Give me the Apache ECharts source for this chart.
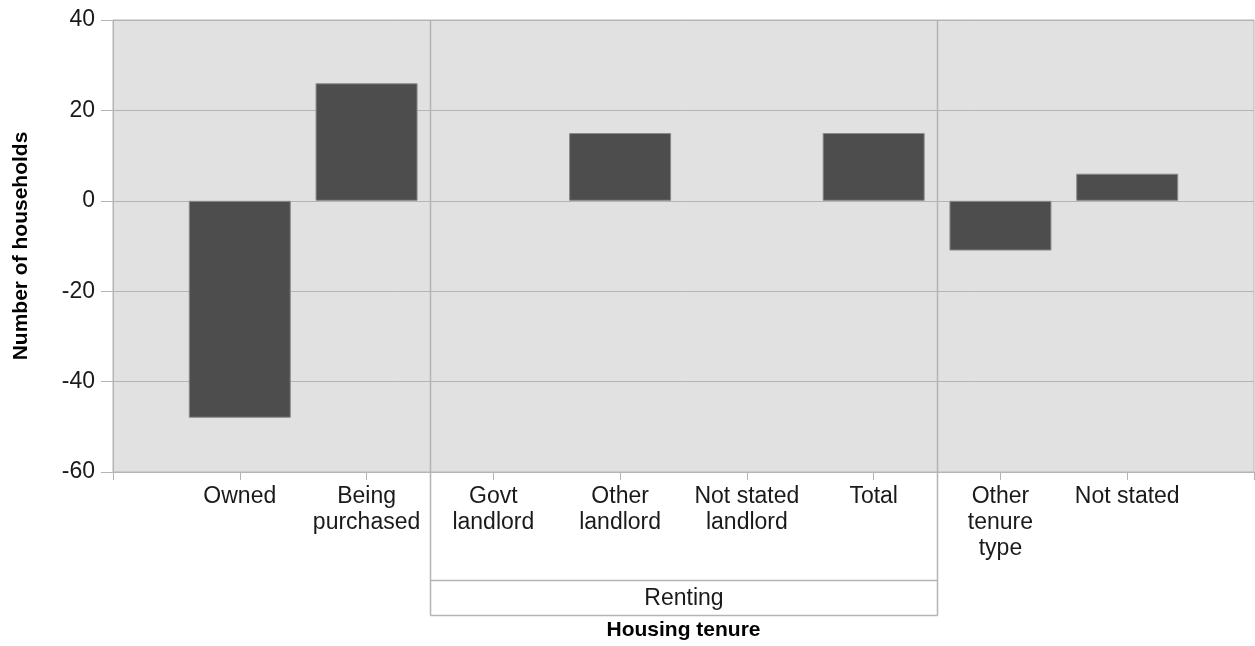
<!DOCTYPE html>
<html>
<head>
<meta charset="utf-8">
<script src="https://cdn.jsdelivr.net/npm/echarts@6/dist/echarts.min.js"></script>
<style>html,body{margin:0;padding:0;background:#fff}#c{width:1255px;height:646px}</style>
</head>
<body>
<div id="c"></div>
<script>
var categories = ['', 'Owned', 'Being\npurchased', 'Govt\nlandlord', 'Other\nlandlord', 'Not stated\nlandlord', 'Total', 'Other\ntenure\ntype', 'Not stated', ''];
var values = [null, -48, 26, 0, 15, 0, 15, -11, 6, null];
var yTicks = { min: -60, max: 40, interval: 20 };
var groupLabel = 'Renting';
var groupStart = 3; // first category index in group
var groupEnd = 6;   // last category index in group

var chart = echarts.init(document.getElementById('c'), null, { renderer: 'canvas' });
var font = 'Arial, "Liberation Sans", sans-serif';
var barData = values.map(function (v) {
  return v === 0 ? { value: 0, itemStyle: { borderWidth: 0 } } : v;
});
var option = {
  animation: false,
  grid: { left: 113, right: 1, top: 20, bottom: 174, outerBoundsMode: 'none', containLabel: false, show: true, backgroundColor: '#e1e1e1', borderColor: '#b4b4b4', borderWidth: 1 },
  xAxis: {
    type: 'category', data: categories, boundaryGap: false,
    axisLine: { show: true, onZero: false, lineStyle: { color: '#b4b4b4', width: 1 } },
    axisTick: { show: true, length: 8, lineStyle: { color: '#b4b4b4' } },
    axisLabel: { color: '#1a1a1a', fontSize: 23, fontFamily: font, lineHeight: 26, margin: 12, interval: 0 },
    splitLine: { show: false },
    name: 'Housing tenure', nameLocation: 'middle', nameGap: 148,
    nameTextStyle: { fontSize: 21, fontWeight: 'bold', color: '#000', fontFamily: font }
  },
  yAxis: {
    type: 'value', min: yTicks.min, max: yTicks.max, interval: yTicks.interval,
    axisLine: { show: true, lineStyle: { color: '#b4b4b4' } },
    axisTick: { show: true, length: 12, lineStyle: { color: '#b4b4b4' } },
    axisLabel: { color: '#1a1a1a', fontSize: 23, fontFamily: font, margin: 18 },
    splitLine: { show: true, lineStyle: { color: '#b4b4b4', width: 1 } },
    name: 'Number of households', nameLocation: 'middle', nameGap: 81, nameRotate: 90,
    nameTextStyle: { fontSize: 21, fontWeight: 'bold', color: '#000', fontFamily: font }
  },
  series: [{
    type: 'bar', data: barData, barWidth: 102,
    itemStyle: { color: '#4d4d4d', borderColor: '#8a8a8a', borderWidth: 1 }
  }]
};
chart.setOption(option);

function drawGroup() {
  var p0 = chart.convertToPixel({ xAxisIndex: 0 }, groupStart - 1);
  var p1 = chart.convertToPixel({ xAxisIndex: 0 }, groupStart);
  var p2 = chart.convertToPixel({ xAxisIndex: 0 }, groupEnd);
  var p3 = chart.convertToPixel({ xAxisIndex: 0 }, groupEnd + 1);
  var xl = Math.round((p0 + p1) / 2) + 0.5;
  var xr = Math.round((p2 + p3) / 2) + 0.5;
  var yTop = chart.convertToPixel({ yAxisIndex: 0 }, yTicks.max);
  var y1 = 580.5, y2 = 615.5;
  var ls = { stroke: '#b4b4b4', lineWidth: 1.5 };
  chart.setOption({
    graphic: [
      { type: 'line', shape: { x1: xl, y1: yTop, x2: xl, y2: y2 }, style: ls, z: 10 },
      { type: 'line', shape: { x1: xr, y1: yTop, x2: xr, y2: y2 }, style: ls, z: 10 },
      { type: 'line', shape: { x1: xl, y1: y1, x2: xr, y2: y1 }, style: ls, z: 10 },
      { type: 'line', shape: { x1: xl, y1: y2, x2: xr, y2: y2 }, style: ls, z: 10 },
      { type: 'text', x: (xl + xr) / 2, y: (y1 + y2) / 2 + 1, style: { text: groupLabel, fontSize: 23, fontFamily: font, fill: '#1a1a1a', align: 'center', verticalAlign: 'middle' }, z: 10 }
    ]
  });
}
drawGroup();
</script>
</body>
</html>
